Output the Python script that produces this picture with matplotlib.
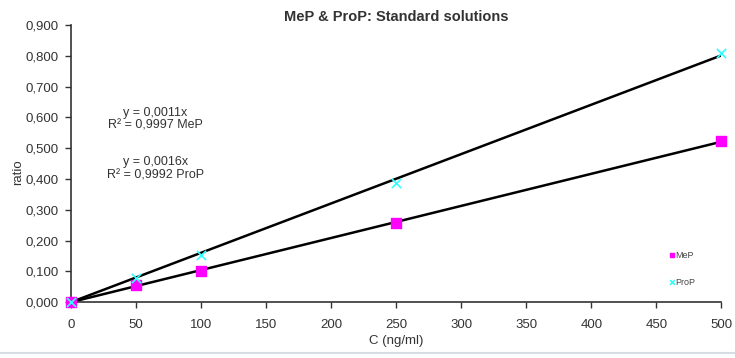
import numpy as np
import matplotlib
matplotlib.use('Agg')
import matplotlib.pyplot as plt
from matplotlib.lines import Line2D
from matplotlib.ticker import FuncFormatter

plt.rcParams['font.family'] = ['Liberation Sans', 'DejaVu Sans']

# Data
conc = np.array([0, 50, 100, 250, 500])
mep = np.array([0.000, 0.055, 0.100, 0.258, 0.523])
prop = np.array([0.000, 0.078, 0.152, 0.388, 0.810])

# Trendlines through the origin
slope_mep = np.sum(conc * mep) / np.sum(conc ** 2)
slope_prop = np.sum(conc * prop) / np.sum(conc ** 2)

fig = plt.figure(figsize=(7.35, 3.58), dpi=100)
ax = fig.add_axes([0.0966, 0.156, 0.885, 0.774])

xs = np.array([0, 500])
ax.plot(xs, slope_prop * xs, color='black', lw=1.8, zorder=2)
ax.plot(xs, slope_mep * xs, color='black', lw=1.8, zorder=2)
ax.scatter(conc, mep, marker='s', s=45, color='#ff00ff', zorder=3, label='MeP')
ax.scatter(conc, prop, marker='x', s=45, color='#33ffff', lw=1.2, zorder=3, label='ProP')

ax.set_xlim(0, 500)
ax.set_ylim(0, 0.9)
ax.set_xticks(np.arange(0, 501, 50))
ax.set_yticks(np.arange(0, 0.91, 0.1))
ax.yaxis.set_major_formatter(FuncFormatter(lambda v, p: f'{v:.3f}'.replace('.', ',')))
ax.tick_params(direction='out', length=4, width=1, labelsize=9.5, colors='#333333', labelcolor='#333333')
ax.tick_params(axis='x', pad=8)
ax.tick_params(axis='y', pad=5)
for s in ['top', 'right']:
    ax.spines[s].set_visible(False)
for s in ['left', 'bottom']:
    ax.spines[s].set_color('#333333')
    ax.spines[s].set_linewidth(1.2)
for c in ax.collections:
    c.set_clip_on(False)

ax.set_xlabel('C (ng/ml)', fontsize=9.5, color='#333333', labelpad=3)
ax.set_ylabel('ratio', fontsize=9.5, color='#333333')
ax.yaxis.set_label_coords(-0.072, 0.47)
fig.text(0.539, 1 - 17 / 358, 'MeP & ProP: Standard solutions', ha='center', va='center',
         fontsize=10.5, fontweight='bold', color='#333333')

ax.text(0.13, 0.66, 'y = 0,0011x\nR\u00b2 = 0,9997 MeP', transform=ax.transAxes,
        ha='center', va='center', fontsize=9, color='#333333', linespacing=1.15)
ax.text(0.13, 0.482, 'y = 0,0016x\nR\u00b2 = 0,9992 ProP', transform=ax.transAxes,
        ha='center', va='center', fontsize=9, color='#333333', linespacing=1.15)

leg = ax.legend(loc='center left', bbox_to_anchor=(0.905, 0.121), frameon=False,
                fontsize=6.5, handletextpad=-0.2, labelspacing=2.0, markerscale=0.5,
                handlelength=1.0)
for t in leg.get_texts():
    t.set_color('#444444')

fig.add_artist(Line2D([0.0, 1.0], [0.015, 0.015], color='#d8dde3', lw=1.5))

plt.savefig('out.png', dpi=100)
